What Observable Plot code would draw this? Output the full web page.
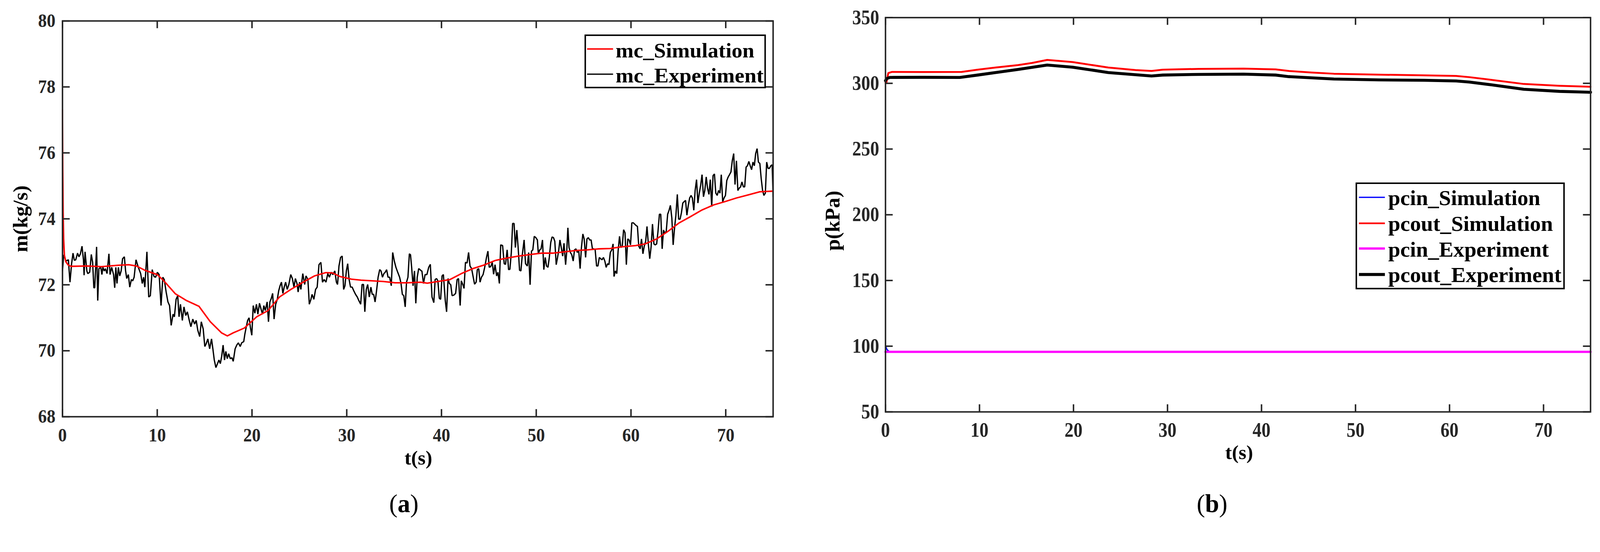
<!DOCTYPE html>
<html>
<head>
<meta charset="utf-8">
<script src="https://cdn.jsdelivr.net/npm/d3@7"></script>
<script src="https://cdn.jsdelivr.net/npm/@observablehq/plot@0.6"></script>
<style>
  html, body { margin: 0; padding: 0; background: #ffffff; overflow: hidden; }
  #wrap { position: absolute; left: 0; top: 0; width: 4314px; height: 1413px; background: #fff; overflow: hidden; transform-origin: 0 0; }
  .panel { position: absolute; top: 0; width: 2157px; height: 1413px; }
  .panel svg { max-width: none !important; }
</style>
</head>
<body>
<div id="wrap">
  <div id="pa" class="panel" style="left:0px"></div>
  <div id="pb" class="panel" style="left:2157px"></div>
</div>
<script>
// ---------- tick labels ----------
const xTicks = [0, 10, 20, 30, 40, 50, 60, 70];
const yTicksA = [68, 70, 72, 74, 76, 78, 80];
const yTicksB = [50, 100, 150, 200, 250, 300, 350];

// ---------- panel (a): mc_Simulation ----------
const simT = [0, 0.03, 0.07, 0.12, 0.2, 0.35, 0.6, 0.9, 2.6, 4.1, 5.8, 7.0, 7.8, 8.7, 10.0, 10.7, 11.9, 13.1, 14.4, 15.6, 16.8, 17.4, 18.0, 19.2, 20.5, 21.7, 22.9, 24.1, 25.4, 26.6, 27.8, 28.5, 29.3, 30.5, 31.5, 32.7, 33.9, 35.1, 36.4, 37.8, 38.5, 40.9, 42.1, 43.3, 44.5, 45.7, 46.9, 48.1, 49.4, 50.6, 51.8, 53.0, 54.2, 55.4, 56.6, 57.8, 59.0, 60.5, 61.5, 62.7, 63.9, 65.1, 66.3, 67.5, 68.7, 69.9, 71.1, 72.3, 73.6, 75.0];
const simM = [77.3, 75.5, 74.2, 73.4, 72.9, 72.7, 72.6, 72.56, 72.57, 72.55, 72.59, 72.61, 72.57, 72.44, 72.31, 72.12, 71.73, 71.52, 71.35, 70.88, 70.54, 70.45, 70.54, 70.69, 71.03, 71.22, 71.63, 71.86, 72.08, 72.27, 72.37, 72.36, 72.25, 72.17, 72.14, 72.12, 72.1, 72.06, 72.06, 72.08, 72.05, 72.16, 72.34, 72.49, 72.6, 72.74, 72.81, 72.87, 72.92, 72.96, 72.96, 73.0, 73.04, 73.06, 73.09, 73.1, 73.15, 73.19, 73.24, 73.39, 73.62, 73.88, 74.07, 74.27, 74.42, 74.52, 74.63, 74.72, 74.82, 74.84];

// ---------- panel (a): mc_Experiment ----------
const expT = [
0,0.13,0.37,0.62,0.79,0.96,1.11,1.25,1.40,1.59,
1.74,1.89,2.06,2.21,2.28,2.38,2.57,2.67,2.87,3.04,
3.18,3.31,3.40,3.60,3.72,3.84,4.04,4.16,4.26,4.41,
4.53,4.70,4.90,5.02,5.19,5.39,5.51,5.63,5.75,5.90,
6.04,6.19,6.34,6.53,6.66,6.78,6.95,7.10,7.27,7.41,
7.56,7.76,8.00,8.25,8.42,8.56,8.69,8.91,9.10,9.27,
9.47,9.66,9.83,10.01,10.20,10.40,10.59,10.74,10.94,11.13,
11.30,11.47,11.67,11.81,11.99,12.16,12.30,12.45,12.65,12.82,
13.01,13.18,13.38,13.55,13.75,13.94,14.11,14.28,14.48,14.65,
14.85,15.02,15.16,15.34,15.53,15.73,15.87,16.02,16.19,16.36,
16.51,16.66,16.80,16.95,17.10,17.24,17.39,17.54,17.71,17.88,
18.02,18.22,18.39,18.56,18.76,18.91,19.13,19.25,19.40,19.54,
19.69,19.84,19.98,20.13,20.30,20.47,20.62,20.79,20.96,21.11,
21.25,21.40,21.60,21.74,21.89,22.04,22.18,22.33,22.50,22.67,
22.82,22.96,23.11,23.26,23.40,23.55,23.72,23.89,24.09,24.26,
24.43,24.58,24.75,24.87,25.02,25.16,25.36,25.56,25.70,25.90,
26.05,26.22,26.34,26.53,26.71,26.88,27.07,27.27,27.44,27.61,
27.81,28.00,28.17,28.35,28.54,28.74,28.91,29.03,29.18,29.35,
29.52,29.67,29.81,29.96,30.10,30.25,30.40,30.57,30.74,30.93,
31.11,31.28,31.47,31.62,31.77,31.91,32.06,32.21,32.38,32.55,
32.69,32.84,32.99,33.13,33.31,33.48,33.62,33.77,33.92,34.06,
34.21,34.36,34.53,34.70,34.85,35.02,35.19,35.38,35.58,35.73,
35.87,36.02,36.17,36.31,36.46,36.61,36.73,36.85,37.00,37.15,
37.29,37.44,37.59,37.73,37.88,
37.93,38.10,38.27,38.46,38.65,38.82,39.00,39.19,39.33,39.48,
39.62,39.77,39.91,40.06,40.20,40.40,40.54,40.69,40.83,40.98,
41.12,41.32,41.49,41.65,41.80,41.97,42.09,42.26,42.38,42.53,
42.70,42.86,43.01,43.18,43.35,43.49,43.66,43.78,43.93,44.07,
44.22,44.39,44.56,44.75,44.90,45.04,45.19,45.36,45.50,45.65,
45.82,45.96,46.11,46.25,46.45,46.62,46.76,46.93,47.08,47.22,
47.37,47.51,47.66,47.80,47.95,48.09,48.24,48.38,48.53,48.72,
48.87,49.06,49.20,49.35,49.50,49.64,49.79,49.96,50.12,50.22,
50.37,50.51,50.66,50.80,50.95,51.09,51.24,51.38,51.53,51.67,
51.82,51.96,52.11,52.25,52.38,52.50,52.64,52.79,52.93,53.10,
53.22,53.34,53.46,53.61,53.75,53.90,54.04,54.19,54.34,54.48,
54.63,54.77,54.92,55.06,55.21,55.35,55.50,55.64,55.79,55.93,
56.08,56.22,56.37,56.51,56.66,56.80,56.95,57.09,57.24,57.38,
57.53,57.67,57.82,57.97,58.11,58.21,58.35,58.50,58.64,58.79,
58.93,59.08,59.22,59.37,59.51,59.66,59.80,59.95,60.09,60.24,
60.39,60.53,60.68,60.82,60.97,61.11,61.26,61.40,61.55,61.69,
61.84,61.98,62.13,62.27,62.42,62.56,62.71,62.85,63.00,63.14,
63.29,63.43,63.58,63.72,63.87,64.02,64.16,64.31,64.45,64.60,
64.74,64.89,65.03,65.18,65.32,65.47,65.61,65.76,65.90,66.05,
66.19,66.34,66.48,66.63,66.77,66.92,67.06,67.21,67.35,67.50,
67.65,67.79,67.94,68.08,68.23,68.37,68.52,68.66,68.81,68.95,
69.10,69.24,69.39,69.53,69.68,69.82,69.97,70.11,70.26,70.40,
70.55,70.69,70.84,70.98,71.13,71.28,71.42,71.57,71.71,71.86,
72.00,72.15,72.29,72.44,72.58,72.73,72.87,73.02,73.16,73.31,
73.45,73.60,73.74,73.89,74.03,74.18,74.32,74.47,74.61,74.76,
74.90,75.00];
const expM = [
72.42,72.91,72.72,72.76,72.08,72.64,72.96,72.74,72.76,72.96,
72.85,72.94,73.17,72.76,72.29,73.0,72.42,72.34,72.38,72.92,
72.68,71.91,71.91,73.15,71.52,72.49,72.53,72.31,72.53,72.42,
72.49,72.34,72.94,72.31,72.53,72.31,71.91,72.53,72.04,72.53,
72.27,72.42,72.79,72.85,72.42,72.19,72.31,71.93,72.16,72.12,
72.23,72.76,72.53,72.34,72.04,72.23,71.93,73.0,71.63,71.67,
72.46,72.25,72.23,72.38,72.31,71.37,72.23,72.16,71.78,71.48,
71.37,70.77,71.11,71.03,71.56,71.67,71.03,71.41,70.92,71.33,
71.07,71.18,70.92,70.73,70.96,70.81,70.92,70.62,70.43,70.88,
70.66,70.13,70.21,70.36,70.06,70.36,70.06,69.72,69.49,69.61,
69.72,69.61,69.83,70.17,69.72,69.98,69.76,69.91,69.76,69.79,
69.68,70.06,70.17,70.24,70.13,70.24,70.28,70.51,70.73,70.92,
71.0,70.69,70.47,71.37,71.14,71.41,71.11,71.44,71.26,71.11,
71.37,71.22,71.48,70.88,71.48,71.59,71.74,70.96,71.41,71.56,
71.82,71.97,72.08,71.74,71.93,72.08,71.86,72.01,72.31,72.19,
71.93,72.19,72.04,71.78,72.08,71.86,72.34,72.01,72.27,72.16,
71.41,71.56,71.71,71.56,71.86,71.93,72.61,72.68,72.08,72.16,
72.08,72.34,72.23,72.38,72.31,72.42,72.08,72.01,72.57,72.83,
72.87,71.86,71.97,72.42,72.64,72.16,71.93,71.93,71.82,71.71,
71.63,71.52,71.41,72.01,72.01,71.18,71.86,72.01,71.63,71.93,
71.71,71.71,71.48,71.78,72.23,72.46,72.42,72.23,72.34,72.38,
72.46,72.23,72.23,71.97,72.98,72.72,72.53,72.38,72.23,72.04,
71.71,71.67,71.33,72.08,72.23,72.94,72.91,72.53,71.97,72.42,
71.44,72.23,72.49,72.46,72.42,
72.42,72.04,72.31,72.31,72.53,72.62,71.63,71.46,72.16,72.19,
72.12,71.59,71.56,72.27,72.31,71.52,71.18,72.19,72.04,72.0,
71.67,71.69,71.74,72.16,72.19,71.37,72.12,72.0,71.89,72.68,
72.66,72.98,72.57,72.49,72.23,72.02,72.08,72.46,72.49,72.08,
72.23,72.31,72.53,72.83,73.02,72.53,72.55,72.68,72.32,72.61,
72.27,72.38,72.04,73.21,73.19,72.64,72.62,73.06,72.46,72.47,
72.98,73.86,73.86,73.13,73.66,73.13,72.44,72.42,72.91,73.36,
72.64,72.57,72.98,72.0,73.02,73.06,73.47,73.43,73.36,72.94,
73.06,73.09,73.36,72.46,72.83,72.57,72.53,72.83,73.28,73.45,
73.43,73.32,72.61,72.83,73.06,73.36,73.13,72.87,73.26,72.61,
73.02,73.73,73.13,72.98,72.91,72.72,73.06,73.09,72.98,73.06,
72.49,73.13,73.54,73.39,72.83,73.39,73.43,73.36,73.36,73.09,
73.09,73.06,72.57,72.57,72.83,72.79,72.76,72.83,72.72,72.53,
72.64,72.61,72.98,73.06,73.24,72.25,72.42,72.34,73.02,73.47,
73.13,73.17,73.67,73.58,72.61,73.39,73.36,73.21,73.88,73.88,
73.84,73.80,73.77,73.17,73.09,73.39,72.94,73.17,73.32,73.77,
73.21,72.79,73.17,73.84,73.24,73.21,73.24,73.62,74.14,74.14,
73.09,73.66,73.56,73.62,74.14,74.26,74.41,74.03,73.21,73.73,
74.11,74.74,73.99,73.99,74.18,74.48,74.52,74.56,74.11,74.41,
74.63,74.71,74.63,74.26,74.86,75.19,74.48,74.78,75.01,75.34,
74.67,74.86,75.27,74.93,74.74,75.19,74.37,75.31,75.36,74.78,
74.71,74.86,74.78,75.34,74.52,74.63,74.71,75.16,75.27,75.34,
75.42,75.76,75.98,75.04,75.76,74.86,74.93,74.97,75.12,74.97,
74.97,75.57,75.61,75.74,75.61,75.49,75.72,75.61,75.98,76.13,
75.72,75.68,75.23,74.86,74.71,74.78,75.72,75.53,75.53,75.61,
75.64,74.67];

// ---------- panel (b) ----------
const pcinSimT = [0, 0.15, 0.4, 75];
const pcinSimV = [100.5, 97.5, 95.8, 95.8];
const pcoutSimT = [0, 0.1, 0.3, 0.7, 4, 8.1, 9.8, 11.7, 14.1, 15.6, 17.2, 19.9, 23.7, 26.6, 28.3, 29.5, 33.3, 38.1, 41.5, 42.9, 45.3, 47.7, 52.5, 57.3, 60.7, 62.1, 64.5, 67.9, 71.7, 75];
const pcoutSimV = [300.5, 300.7, 307.8, 308.7, 308.6, 308.7, 310.4, 312.0, 313.9, 315.5, 317.8, 316.2, 312.0, 310.1, 309.4, 310.4, 311.0, 311.2, 310.6, 309.4, 308.2, 307.3, 306.6, 306.1, 305.6, 304.7, 302.6, 299.5, 298.1, 297.4];
const pcinExpT = [0, 75];
const pcinExpV = [95.7, 95.7];
const pcoutExpT = [0, 0.1, 0.45, 4, 7.9, 9.8, 11.7, 14.1, 17.2, 19.9, 23.7, 28.3, 29.5, 33.3, 38.1, 41.5, 42.9, 47.7, 52.5, 57.3, 60.7, 62.1, 64.5, 67.9, 71.7, 75];
const pcoutExpV = [302.0, 303.5, 304.5, 304.6, 304.5, 306.3, 308.2, 310.6, 313.9, 312.3, 308.2, 305.6, 306.3, 306.8, 307.0, 306.3, 305.1, 303.3, 302.6, 302.3, 301.8, 301.0, 298.8, 295.5, 293.9, 293.2];

// ---------- legend labels ----------
const legendA = ["mc_Simulation", "mc_Experiment"];
const legendB = ["pcin_Simulation", "pcout_Simulation", "pcin_Experiment", "pcout_Experiment"];

const zipT = (t, v) => t.map((x, i) => ({t: x, v: v[i]})).filter(d => d.v !== undefined);

const AX = "#262626";
const FONT = "'Liberation Serif', 'Times New Roman', serif";

function framedPlot({width, height, ml, mr, mt, mb, ydom, yticks, fs, ytp, xtp, lines}) {
  const fw = width - ml - mr, fh = height - mt - mb, tl = 20;
  return Plot.plot({
    width, height,
    marginLeft: ml, marginRight: mr, marginTop: mt, marginBottom: mb,
    x: {domain: [0, 75]},
    y: {domain: ydom},
    style: {fontFamily: FONT, fontWeight: "bold", fontSize: fs + "px", background: "#fff", color: AX},
    marks: [
      ...lines,
      Plot.axisX({ticks: xTicks, tickSize: 0, tickPadding: xtp, label: null, fontSize: fs, tickFormat: d => String(d)}),
      Plot.axisY({ticks: yticks, tickSize: 0, tickPadding: ytp, label: null, fontSize: fs, tickFormat: d => String(d)}),
      Plot.tickX(xTicks, {x: d => d, insetTop: fh - tl, stroke: AX, strokeWidth: 4}),
      Plot.tickX(xTicks, {x: d => d, insetBottom: fh - tl, stroke: AX, strokeWidth: 4}),
      Plot.tickY(yticks, {y: d => d, insetRight: fw - tl, stroke: AX, strokeWidth: 4}),
      Plot.tickY(yticks, {y: d => d, insetLeft: fw - tl, stroke: AX, strokeWidth: 4}),
      Plot.frame({stroke: AX, strokeWidth: 4})
    ]
  });
}

const chartA = framedPlot({
  width: 2157, height: 1413, ml: 168, mr: 73, mt: 56, mb: 290,
  ydom: [68, 80], yticks: yTicksA, fs: 51, ytp: 19, xtp: 30,
  lines: [
    Plot.line(zipT(expT, expM), {x: "t", y: "v", stroke: "#000", strokeWidth: 3.5, strokeLinejoin: "miter"}),
    Plot.line(zipT(simT, simM), {x: "t", y: "v", stroke: "#ff0000", strokeWidth: 4})
  ]
});
const chartB = framedPlot({
  width: 2157, height: 1413, ml: 230, mr: 26, mt: 47, mb: 303,
  ydom: [50, 350], yticks: yTicksB, fs: 55, ytp: 17, xtp: 28,
  lines: [
    Plot.line(zipT(pcinSimT, pcinSimV), {x: "t", y: "v", stroke: "#0000ff", strokeWidth: 3.5}),
    Plot.line(zipT(pcoutSimT, pcoutSimV), {x: "t", y: "v", stroke: "#ff0000", strokeWidth: 5}),
    Plot.line(zipT(pcinExpT, pcinExpV), {x: "t", y: "v", stroke: "#ff00ff", strokeWidth: 6}),
    Plot.line(zipT(pcoutExpT, pcoutExpV), {x: "t", y: "v", stroke: "#000", strokeWidth: 8})
  ]
});

document.getElementById("pa").appendChild(chartA);
document.getElementById("pb").appendChild(chartB);

function squeeze(svg, k) {
  svg.querySelectorAll('g[aria-label$="tick label"] text').forEach(t => {
    const L = t.getComputedTextLength();
    if (L > 0) { t.setAttribute("textLength", (L * k).toFixed(1)); t.setAttribute("lengthAdjust", "spacingAndGlyphs"); }
  });
}
squeeze(chartA, 0.92);
squeeze(chartB, 0.88);

function addText(svg, {x, y, text, size, rotate = 0, anchor = "middle", weight = "bold"}) {
  return d3.select(svg).append("text")
    .attr("transform", `translate(${x},${y}) rotate(${rotate})`)
    .attr("text-anchor", anchor)
    .attr("font-family", FONT)
    .attr("font-weight", weight)
    .attr("font-size", size)
    .attr("fill", "#000")
    .text(text);
}
function addCaption(svg, x, y, letter) {
  const t = d3.select(svg).append("text")
    .attr("x", x).attr("y", y).attr("text-anchor", "middle")
    .attr("font-family", FONT).attr("font-size", 68).attr("fill", "#000");
  t.append("tspan").attr("font-weight", "normal").text("(");
  t.append("tspan").attr("font-weight", "bold").text(letter);
  t.append("tspan").attr("font-weight", "normal").text(")");
}
function addLegend(svg, box, rows) {
  const g = d3.select(svg).append("g").attr("text-anchor", "start");
  g.append("rect").attr("x", box.x).attr("y", box.y).attr("width", box.w).attr("height", box.h)
    .attr("fill", "#fff").attr("stroke", "#000").attr("stroke-width", 4);
  rows.forEach(r => {
    g.append("line").attr("x1", box.lx1).attr("x2", box.lx2).attr("y1", r.ly).attr("y2", r.ly)
      .attr("stroke", r.color).attr("stroke-width", r.sw);
    g.append("text").attr("x", box.tx).attr("y", r.by)
      .attr("text-anchor", "start")
      .attr("font-family", FONT).attr("font-weight", "bold").attr("font-size", box.fs).attr("fill", "#000")
      .attr("textLength", r.len).attr("lengthAdjust", "spacingAndGlyphs")
      .text(r.label);
  });
}

// panel (a) texts
addText(chartA, {x: 54, y: 590, text: "m(kg/s)", size: 56, rotate: -90}).attr("dy", "0.35em");
addText(chartA, {x: 1128, y: 1252, text: "t(s)", size: 54});
addCaption(chartA, 1089, 1381, "a");
addLegend(chartA, {x: 1578, y: 95, w: 485, h: 141, lx1: 1583, lx2: 1653, tx: 1660, fs: 56}, [
  {label: legendA[0], color: "#ff0000", sw: 4, ly: 132, by: 155, len: 374},
  {label: legendA[1], color: "#000", sw: 3.5, ly: 200, by: 222, len: 399}
]);

// panel (b) texts
addText(chartB, {x: 87, y: 595, text: "p(kPa)", size: 56, rotate: -90}).attr("dy", "0.35em");
addText(chartB, {x: 1184, y: 1238, text: "t(s)", size: 54});
addCaption(chartB, 1111, 1381, "b");
addLegend(chartB, {x: 1500, y: 494, w: 560, h: 284, lx1: 1507, lx2: 1577, tx: 1586, fs: 58}, [
  {label: legendB[0], color: "#0000ff", sw: 3.5, ly: 532, by: 553, len: 410},
  {label: legendB[1], color: "#ff0000", sw: 4.5, ly: 602, by: 622, len: 444},
  {label: legendB[2], color: "#ff00ff", sw: 6, ly: 670, by: 692, len: 433},
  {label: legendB[3], color: "#000", sw: 8, ly: 740, by: 760, len: 467}
]);

// fit the 4314x1413 figure to the actual viewport
function fit() {
  const s = Math.min(window.innerWidth / 4314, window.innerHeight / 1413);
  document.getElementById("wrap").style.transform = `scale(${s})`;
}
fit();
window.addEventListener("resize", fit);
</script>
</body>
</html>
